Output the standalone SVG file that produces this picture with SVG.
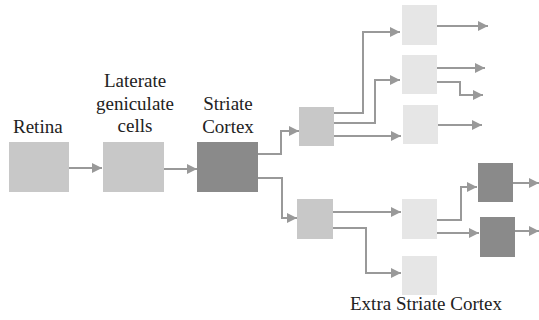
<svg xmlns="http://www.w3.org/2000/svg" width="539" height="320" viewBox="0 0 539 320">
<style>
.mid{fill:#c8c8c8}
.light{fill:#e6e6e6}
.dark{fill:#8a8a8a}
.c{fill:none;stroke:#999;stroke-width:2;marker-end:url(#ah)}
text{font-family:"Liberation Serif","Times New Roman",serif;font-size:19px;fill:#222}
</style>
<defs>
<marker id="ah" viewBox="0 0 10 10" refX="10" refY="5" markerUnits="userSpaceOnUse" markerWidth="12" markerHeight="10" orient="auto">
<path d="M0,0 L10,5 L0,10 Z" fill="#999"/>
</marker>
</defs>
<rect width="539" height="320" fill="#fff"/>
<g id="connectors">
<path class="c" d="M69,168 H102"/>
<path class="c" d="M164,169 H197"/>
<path class="c" d="M258,154 H281 V131 H299"/>
<path class="c" d="M258,178 H282 V218 H297"/>
<path class="c" d="M334,113 H363 V32 H400"/>
<path class="c" d="M334,123 H375 V80 H400"/>
<path class="c" d="M334,136 H401"/>
<path class="c" d="M437,26 H488"/>
<path class="c" d="M437,68 H485"/>
<path class="c" d="M437,82 H460 V95 H483"/>
<path class="c" d="M438,125 H482"/>
<path class="c" d="M333,212 H401"/>
<path class="c" d="M333,228 H366 V273 H401"/>
<path class="c" d="M437,220 H461 V187 H477"/>
<path class="c" d="M437,233 H479"/>
<path class="c" d="M513,183 H539"/>
<path class="c" d="M515,231 H539"/>
</g>
<g id="retina"><rect class="mid" x="9" y="142" width="60" height="50"/><text x="13" y="133">Retina</text></g>
<g id="lgn"><rect class="mid" x="103" y="142" width="61" height="50"/>
<text x="135" y="87" text-anchor="middle">Laterate</text>
<text x="135" y="110" text-anchor="middle">geniculate</text>
<text x="135" y="132" text-anchor="middle">cells</text></g>
<g id="striate"><rect class="dark" x="197" y="142" width="61" height="50"/>
<text x="228" y="110" text-anchor="middle">Striate</text>
<text x="228" y="133" text-anchor="middle">Cortex</text></g>
<g id="a"><rect class="mid" x="299" y="107" width="35" height="39"/></g>
<g id="b"><rect class="mid" x="297" y="199" width="36" height="40"/></g>
<g id="c1"><rect class="light" x="402" y="5" width="35" height="40"/></g>
<g id="c2"><rect class="light" x="402" y="55" width="35" height="39"/></g>
<g id="c3"><rect class="light" x="403" y="105" width="35" height="39"/></g>
<g id="d1"><rect class="light" x="402" y="199" width="35" height="40"/></g>
<g id="d2"><rect class="light" x="402" y="256" width="35" height="39"/></g>
<g id="e1"><rect class="dark" x="478" y="163" width="35" height="39"/></g>
<g id="e2"><rect class="dark" x="480" y="217" width="35" height="40"/></g>
<g id="extra"><text x="350" y="310">Extra Striate Cortex</text></g>
</svg>
